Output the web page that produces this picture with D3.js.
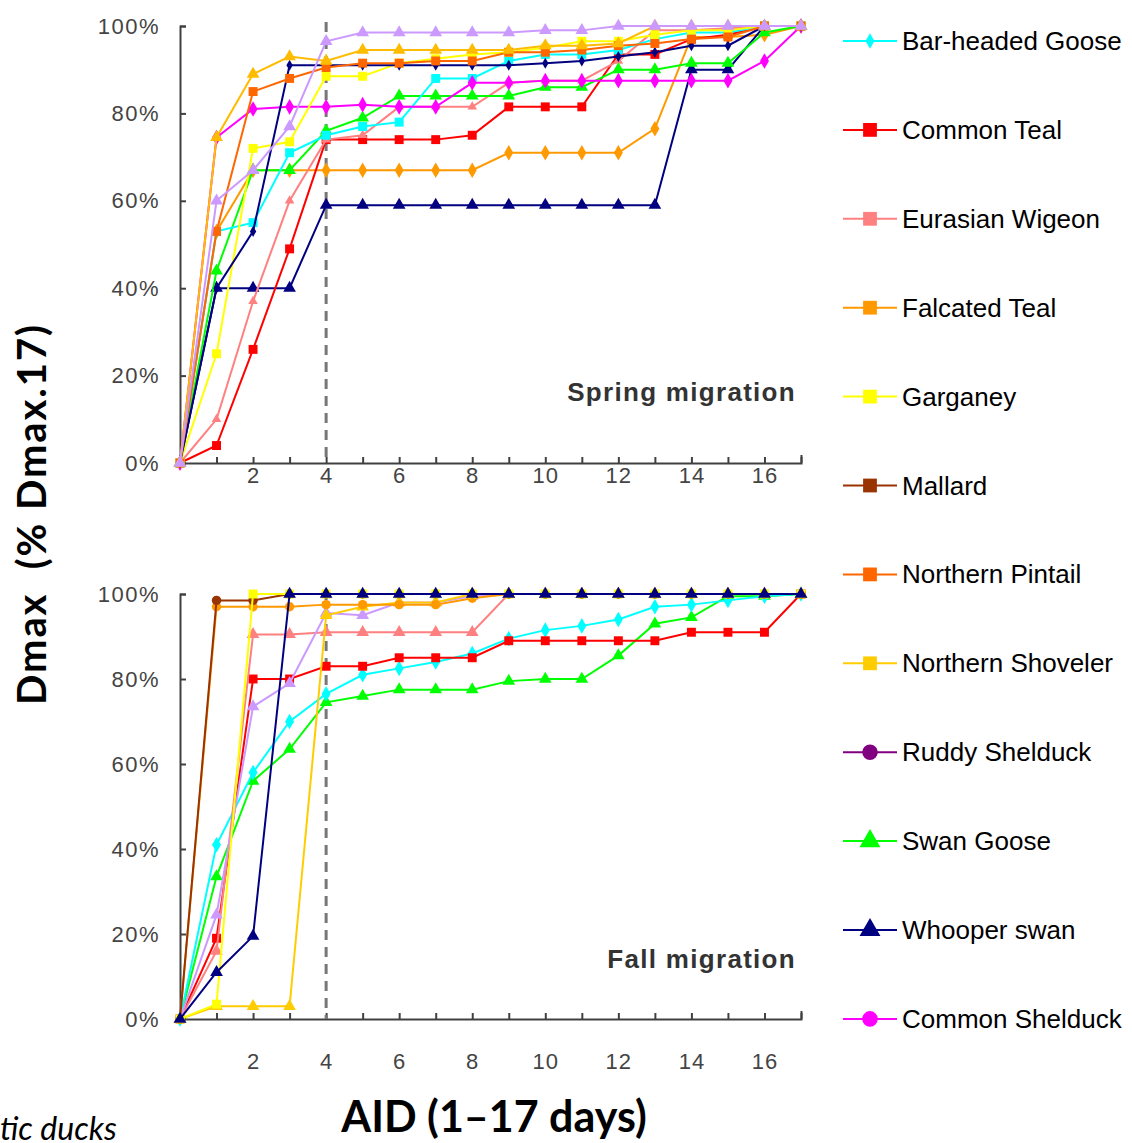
<!DOCTYPE html>
<html>
<head>
<meta charset="utf-8">
<script src="https://cdn.jsdelivr.net/npm/d3@7"></script>
<style>
  body { margin: 0; background: #fff; }
  svg { display: block; font-family: "Liberation Sans", Arial, sans-serif; }
</style>
</head>
<body>
<svg id="chart" width="1132" height="1143"></svg>
<script>
// x values (AID, days) and axis ticks
const days = [0, 1, 2, 3, 4, 5, 6, 7, 8, 9, 10, 11, 12, 13, 14, 15, 16, 17];
const xTickValues = [1, 2, 3, 4, 5, 6, 7, 8, 9, 10, 11, 12, 13, 14, 15, 16, 17];
const xLabelValues = [2, 4, 6, 8, 10, 12, 14, 16];
const yTickValues = [0, 20, 40, 60, 80, 100];
const cutoffDay = 4;

// spring migration, % of Dmax.17
const springBarHeaded = [0, 53, 55, 71, 75, 77, 78, 88, 88, 92, 93.5, 93.5, 94.5, 97, 98.5, 98.5, 100, 100];
const springCommonTeal = [0, 4, 26, 49, 74, 74, 74, 74, 75, 81.5, 81.5, 81.5, 93.5, 93.5, 97, 98, 100, 100];
const springWigeon = [0, 10, 37, 60, 74, 75, 81.5, 81.5, 81.5, 87, 87.5, 87.5, 92, 99, 99, 99.5, 100, 100];
const springFalcated = [0, 53, 67, 67, 67, 67, 67, 67, 67, 71, 71, 71, 71, 76.5, 97.5, 97.5, 98, 100];
const springGarganey = [0, 25, 72, 73.5, 88.5, 88.5, 91.5, 92.5, 93.5, 94, 95, 96.5, 96.5, 98, 99, 99, 100, 100];
const springPintail = [0, 53, 85, 88, 90.5, 91.5, 91.5, 92, 92, 94, 94, 94.5, 95.5, 96, 97, 97.5, 100, 100];
const springShoveler = [0, 74.5, 89, 93, 92, 94.5, 94.5, 94.5, 94.5, 94.5, 95.5, 95.5, 96, 100, 100, 100, 100, 100];
const springLavender = [0, 60, 67, 77, 96.5, 98.5, 98.5, 98.5, 98.5, 98.5, 99, 99, 100, 100, 100, 100, 100, 100];
const springSwanGoose = [0, 44, 67, 67, 76, 79, 84, 84, 84, 84, 86, 86, 90, 90, 91.5, 91.5, 98.5, 100];
const springWhooper = [0, 40, 40, 40, 59, 59, 59, 59, 59, 59, 59, 59, 59, 59, 90, 90, 100, 100];
const springNavy2 = [0, 40, 53, 91, 91, 91, 91, 91, 91, 91, 91.5, 92, 93, 94, 95.5, 95.5, 100, 100];
const springShelduck = [0, 74.5, 81, 81.5, 81.5, 82, 81.5, 81.5, 87, 87, 87.5, 87.5, 87.5, 87.5, 87.5, 87.5, 92, 100];

// fall migration, % of Dmax.17
const fallMallard = [0, 98.5, 98.5, 100, 100, 100, 100, 100, 100, 100, 100, 100, 100, 100, 100, 100, 100, 100];
const fallFalcated = [0, 97, 97, 97, 97.5, 97.5, 97.5, 97.5, 99, 100, 100, 100, 100, 100, 100, 100, 100, 100];
const fallShoveler = [0, 3, 3, 3, 95, 97, 98, 98, 100, 100, 100, 100, 100, 100, 100, 100, 100, 100];
const fallGarganey = [0, 3.5, 100, 100, 100, 100, 100, 100, 100, 100, 100, 100, 100, 100, 100, 100, 100, 100];
const fallLavender = [0, 24.5, 73.5, 79, 95.5, 95, 98, 98, 99.5, 100, 100, 100, 100, 100, 100, 100, 100, 100];
const fallWigeon = [0, 16, 90.5, 90.5, 91, 91, 91, 91, 91, 100, 100, 100, 100, 100, 100, 100, 100, 100];
const fallCommonTeal = [0, 19, 80, 80, 83, 83, 85, 85, 85, 89, 89, 89, 89, 89, 91, 91, 91, 100];
const fallBarHeaded = [0, 41, 58, 70, 76.5, 81, 82.5, 84, 86, 89.5, 91.5, 92.5, 94, 97, 97.5, 98.5, 99.5, 100];
const fallSwanGoose = [0, 33.5, 56, 63.5, 74.5, 76, 77.5, 77.5, 77.5, 79.5, 80, 80, 85.5, 93, 94.5, 99.5, 99.5, 100];
const fallWhooper = [0, 11, 19.5, 100, 100, 100, 100, 100, 100, 100, 100, 100, 100, 100, 100, 100, 100, 100];

// legend entries
const legendNames = ["Bar-headed Goose", "Common Teal", "Eurasian Wigeon", "Falcated Teal", "Garganey", "Mallard",
  "Northern Pintail", "Northern Shoveler", "Ruddy Shelduck", "Swan Goose", "Whooper swan", "Common Shelduck"];
const legendColors = ["#00ffff", "#ff0000", "#ff8080", "#ff9900", "#ffff00", "#993300",
  "#ff6600", "#ffcc00", "#800080", "#00ff00", "#000080", "#ff00ff"];
const legendShapes = ["diamond", "square", "square", "square", "square", "square",
  "square", "square", "circle", "triangle", "triangle", "circle"];

// series drawn in each panel (style is per panel, as in the original)
const springSeries = [
  { values: springFalcated, color: "#ff9900", shape: "diamond" },
  { values: springWhooper, color: "#000080", shape: "triangle" },
  { values: springCommonTeal, color: "#ff0000", shape: "square" },
  { values: springWigeon, color: "#ff8080", shape: "smalltri" },
  { values: springSwanGoose, color: "#00ff00", shape: "triangle" },
  { values: springBarHeaded, color: "#00ffff", shape: "square" },
  { values: springShelduck, color: "#ff00ff", shape: "diamond" },
  { values: springGarganey, color: "#ffff00", shape: "square" },
  { values: springNavy2, color: "#000080", shape: "smalldia" },
  { values: springPintail, color: "#ff6600", shape: "square" },
  { values: springShoveler, color: "#ffbb00", shape: "triangle" },
  { values: springLavender, color: "#cc99ff", shape: "triangle" }
];
const fallSeries = [
  { values: fallSwanGoose, color: "#00ff00", shape: "triangle" },
  { values: fallBarHeaded, color: "#00ffff", shape: "diamond" },
  { values: fallCommonTeal, color: "#ff0000", shape: "square" },
  { values: fallWigeon, color: "#ff8080", shape: "triangle" },
  { values: fallLavender, color: "#cc99ff", shape: "triangle" },
  { values: fallShoveler, color: "#ffcc00", shape: "triangle" },
  { values: fallFalcated, color: "#ff9900", shape: "circle" },
  { values: fallMallard, color: "#993300", shape: "circle" },
  { values: fallGarganey, color: "#ffff00", shape: "square" },
  { values: fallWhooper, color: "#000080", shape: "triangle" }
];

const svg = d3.select("#chart");
const axisColor = "#404040";

const x = d3.scaleLinear().domain([0, 17]).range([180, 801]);

const symbolFor = {
  square: d3.symbol().type(d3.symbolSquare).size(80),
  triangle: d3.symbol().type(d3.symbolTriangle).size(70),
  smalltri: d3.symbol().type(d3.symbolTriangle).size(40),
  diamond: d3.symbol().type(d3.symbolDiamond).size(70),
  smalldia: d3.symbol().type(d3.symbolDiamond).size(35),
  circle: d3.symbol().type(d3.symbolCircle).size(70)
};

function drawPanel(series, top, bottom, labelPad, title, titleY) {
  const y = d3.scaleLinear().domain([0, 100]).range([bottom, top]);
  const g = svg.append("g");

  // y axis
  const yAxis = g.append("g")
    .attr("transform", `translate(${x(0)},0)`)
    .call(d3.axisLeft(y).tickValues(yTickValues).tickSize(-6).tickSizeOuter(-6)
      .tickPadding(20).tickFormat(d => d + "%"));
  yAxis.select(".domain").attr("stroke", axisColor).attr("stroke-width", 2);
  yAxis.selectAll(".tick line").attr("stroke", axisColor).attr("stroke-width", 2);
  yAxis.selectAll("text").attr("fill", "#444").style("font-size", "22px")
    .style("letter-spacing", "1.5px");

  // x axis
  const xAxis = g.append("g")
    .attr("transform", `translate(0,${bottom})`)
    .call(d3.axisBottom(x).tickValues(xTickValues).tickSize(-6).tickSizeOuter(-8)
      .tickPadding(labelPad).tickFormat(d => xLabelValues.includes(d) ? d : ""));
  xAxis.select(".domain").attr("stroke", axisColor).attr("stroke-width", 2);
  xAxis.selectAll(".tick line").attr("stroke", axisColor).attr("stroke-width", 2);
  xAxis.selectAll("text").attr("fill", "#444").style("font-size", "22px")
    .style("letter-spacing", "1px");

  // cutoff line at day 4
  g.append("line")
    .attr("x1", x(cutoffDay)).attr("x2", x(cutoffDay))
    .attr("y1", top - 4).attr("y2", bottom)
    .attr("stroke", "#777").attr("stroke-width", 3)
    .attr("stroke-dasharray", "10,7");

  const line = d3.line().x((d, i) => x(days[i])).y(d => y(d));

  series.forEach(s => {
    const sg = g.append("g");
    sg.append("path")
      .datum(s.values)
      .attr("d", line)
      .attr("fill", "none")
      .attr("stroke", s.color)
      .attr("stroke-width", 2);
    sg.selectAll("path.mark")
      .data(s.values)
      .enter()
      .append("path")
      .attr("class", "mark")
      .attr("transform", (d, i) => `translate(${x(days[i])},${y(d)})`)
      .attr("d", symbolFor[s.shape]())
      .attr("fill", s.color);
  });

  g.append("text")
    .attr("x", 796).attr("y", titleY)
    .attr("text-anchor", "end")
    .attr("fill", "#333")
    .style("font-size", "26px")
    .style("font-weight", "bold")
    .style("letter-spacing", "1.3px")
    .text(title);
}

drawPanel(springSeries, 26, 463, 4, "Spring migration", 401);
drawPanel(fallSeries, 594, 1019, 34, "Fall migration", 968);

// legend
const legend = svg.append("g");
legendNames.forEach((name, i) => {
  const ly = 41 + i * 88.9;
  legend.append("line")
    .attr("x1", 843).attr("x2", 897).attr("y1", ly).attr("y2", ly)
    .attr("stroke", legendColors[i]).attr("stroke-width", 2);
  const sz = legendShapes[i] === "diamond" ? 70 : 190;
  const sym = { diamond: d3.symbolDiamond, square: d3.symbolSquare, circle: d3.symbolCircle, triangle: d3.symbolTriangle }[legendShapes[i]];
  legend.append("path")
    .attr("transform", `translate(870,${ly})`)
    .attr("d", d3.symbol().type(sym).size(sz)())
    .attr("fill", legendColors[i]);
  legend.append("text")
    .attr("x", 902).attr("y", ly + 9)
    .attr("fill", "#000")
    .style("font-size", "26px")
    .text(name);
});

// axis titles
svg.append("text")
  .attr("transform", "translate(46,515) rotate(-90)")
  .attr("text-anchor", "middle")
  .style("font-family", "Lato, 'Open Sans', sans-serif")
  .style("font-weight", "bold")
  .style("font-size", "40px")
  .attr("textLength", 380)
  .attr("lengthAdjust", "spacing")
  .attr("xml:space", "preserve")
  .text("Dmax  (% Dmax.17)");

svg.append("text")
  .attr("x", 494).attr("y", 1132)
  .attr("text-anchor", "middle")
  .style("font-family", "Lato, 'Open Sans', sans-serif")
  .style("font-weight", "bold")
  .style("font-size", "43px")
  .text("AID (1–17 days)");

svg.append("text")
  .attr("x", 0).attr("y", 1140)
  .style("font-family", "Lato, 'Open Sans', sans-serif")
  .style("font-style", "italic")
  .style("font-size", "32px")
  .text("tic ducks");
</script>
</body>
</html>
